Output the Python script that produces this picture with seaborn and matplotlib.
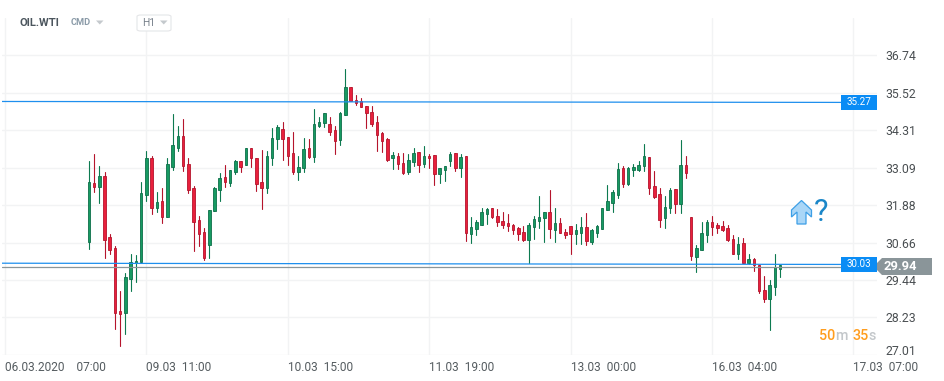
import numpy as np
import pandas as pd
import matplotlib
matplotlib.use('Agg')
import matplotlib.pyplot as plt
from matplotlib.patches import Polygon, Rectangle, FancyBboxPatch
import seaborn as sns

# Hourly candles
highs = [33.31,33.54,33.15,32.94,30.94,30.54,29.09,29.66,30.29,30.26,
         32.63,33.63,33.47,32.30,32.43,33.41,34.84,34.45,34.67,33.41,
         32.50,31.52,31.13,31.71,32.45,32.92,33.17,33.00,33.34,33.30,
         33.72,33.72,33.40,33.67,33.62,34.37,34.48,34.56,34.08,34.24,
         33.46,34.04,34.01,34.99,34.73,34.86,34.73,34.43,34.89,36.30,
         35.70,35.44,35.34,35.08,35.08,34.76,34.24,34.04,33.59,33.56,
         33.56,33.53,33.72,33.59,33.78,33.53,33.49,33.07,33.14,33.59,
         33.56,33.53,33.46,31.48,31.38,31.77,31.77,31.77,31.74,31.64,
         31.58,31.25,31.15,31.19,31.29,31.51,32.17,31.64,32.36,31.77,
         31.45,31.11,31.19,31.25,31.48,31.61,31.09,31.22,31.77,32.52,
         32.36,33.23,33.14,33.10,33.20,33.30,33.85,33.43,32.97,32.42,
         32.16,32.42,32.39,33.99,33.46,31.48,30.57,31.32,31.38,31.51,
         31.29,31.35,31.22,30.90,30.83,30.80,30.28,30.15,29.94,29.59,
         29.43,30.28,29.94]
lows = [30.46,32.31,31.96,30.17,30.30,27.87,27.31,27.70,29.10,29.39,
        30.04,32.02,31.60,31.65,31.31,31.50,33.03,33.64,32.99,32.28,
        30.40,30.56,30.10,30.17,31.70,32.02,32.48,32.51,32.90,32.96,
        33.17,33.12,32.35,31.76,32.28,33.19,33.71,33.35,33.19,32.87,
        32.70,32.96,33.39,33.29,34.42,34.42,34.16,33.55,33.84,34.81,
        35.25,35.14,35.07,34.39,34.46,33.64,33.61,33.32,33.06,33.06,
        32.90,32.87,33.16,32.96,33.12,33.09,32.54,32.60,32.67,33.16,
        32.99,32.80,30.72,30.66,30.92,31.24,31.27,31.47,31.21,31.14,
        31.05,30.95,30.75,30.72,30.01,30.79,31.14,30.69,30.82,30.69,
        30.98,30.82,30.30,30.62,30.62,30.59,30.62,30.85,31.11,31.73,
        31.66,32.12,32.48,32.54,32.83,32.98,32.99,32.25,32.12,31.18,
        31.14,31.63,31.63,31.63,32.77,30.10,29.72,30.41,30.69,30.92,
        30.98,31.05,30.72,30.30,30.14,30.01,29.98,29.75,29.03,28.74,
        27.83,28.97,29.55]
opens = [30.69,32.58,32.48,32.81,30.83,30.47,28.43,28.38,29.49,29.99,
         30.04,32.21,33.40,31.79,32.00,31.50,33.12,33.74,34.11,33.20,
         32.42,31.38,30.99,30.59,31.70,32.38,32.78,32.60,32.96,33.30,
         33.17,33.72,33.40,32.62,32.44,33.42,34.01,34.34,34.08,33.56,
         32.96,33.09,33.72,33.45,34.46,34.53,34.50,34.30,34.00,34.81,
         35.70,35.28,35.25,35.08,34.89,34.56,34.21,34.01,33.39,33.46,
         33.23,32.96,33.29,33.59,33.22,33.46,33.49,32.90,33.03,33.32,
         33.56,33.09,33.46,30.95,31.11,31.24,31.60,31.77,31.51,31.35,
         31.29,31.22,31.12,30.99,30.75,31.18,31.37,31.47,31.64,31.08,
         31.29,30.99,31.19,30.95,30.98,31.16,30.69,30.98,31.11,31.73,
         31.96,32.22,33.07,32.57,33.03,33.03,33.14,33.43,32.49,32.23,
         31.45,31.77,32.39,31.92,33.17,31.48,30.20,30.41,30.92,31.32,
         31.22,31.19,31.12,30.77,30.30,30.64,30.01,30.12,29.92,29.11,
         28.84,29.23,29.81]
closes = [32.62,32.48,32.81,30.75,30.43,28.38,28.35,29.53,30.02,30.05,
          32.26,33.40,31.79,31.97,31.50,33.20,33.82,34.11,33.16,32.38,
          31.34,30.95,30.17,31.71,32.42,32.75,32.64,33.00,33.30,33.12,
          33.72,33.39,32.57,32.44,33.46,34.04,34.40,34.03,33.48,32.96,
          33.10,33.69,33.45,34.50,34.56,34.86,34.26,33.97,34.86,35.70,
          35.25,35.19,35.07,34.85,34.52,34.16,33.97,33.35,33.49,33.22,
          32.93,33.33,33.56,33.19,33.46,33.39,32.90,33.07,33.14,33.53,
          33.09,33.43,30.98,31.16,31.32,31.64,31.74,31.50,31.34,31.24,
          31.21,31.08,30.95,30.75,31.22,31.41,31.48,31.64,31.11,31.29,
          30.98,30.92,30.95,31.06,31.16,30.72,31.06,31.19,31.77,32.00,
          32.29,33.04,32.57,33.07,33.10,33.17,33.46,32.44,32.15,31.40,
          31.80,32.36,31.92,33.17,32.93,30.23,30.47,30.96,31.32,31.18,
          31.14,31.08,30.75,30.30,30.60,30.01,30.12,29.92,29.09,28.84,
          29.27,29.88,29.92]

y_ticks = [27.01, 28.23, 29.44, 30.66, 31.88, 33.09, 34.31, 35.52, 36.74]
x_ticks = [0, 27, 54, 81, 108, 135, 162]
x_labels = ['06.03.2020    07:00', '09.03  11:00', '10.03  15:00', '11.03  19:00',
            '13.03  00:00', '16.03  04:00', '17.03  07:00']
upper_line = [35.24, 35.21]
lower_line = [29.99, 29.95]
price_line = 29.88

sns.set_theme(style='white')
plt.rcParams['font.family'] = ['Roboto', 'DejaVu Sans']

df = pd.DataFrame({'bar': np.arange(len(opens)) + 16, 'open': opens, 'close': closes,
                   'high': highs, 'low': lows})
df['rising'] = df['close'] > df['open']

W, H = 945, 381
fig = plt.figure(figsize=(W / 100, H / 100), dpi=100, facecolor='white')
ax = fig.add_axes([2 / W, 1 - 355 / H, 875 / W, 337 / H])


def px(x, y):
    return x / W, 1 - y / H


# Wicks, one line per candle
wicks = df.melt(id_vars=['bar', 'rising'], value_vars=['high', 'low'], value_name='price')
sns.lineplot(data=wicks, x='bar', y='price', units='bar', estimator=None, hue='rising',
             palette={True: '#0d7a50', False: '#b5142c'}, linewidth=0.8, legend=False,
             ax=ax, zorder=3)

# Bodies
for rising, fill, edge in [(True, '#179a62', '#0d6f49'), (False, '#e8203c', '#b5142c')]:
    part = df[df['rising'] == rising]
    body_lo = part[['open', 'close']].min(axis=1)
    body_hi = part[['open', 'close']].max(axis=1)
    ax.bar(part['bar'], body_hi - body_lo, bottom=body_lo, width=0.48, color=fill,
           edgecolor=edge, linewidth=0.6, zorder=4)

ax.set_xlim(-0.573, 166.5)
ax.set_ylim(27.01, 37.95)
ax.set_xticks(x_ticks)
ax.set_xticklabels(x_labels, ha='left', fontsize=8.6, color='#555c60')
ax.yaxis.tick_right()
ax.set_yticks(y_ticks)
ax.set_yticklabels([f'{v:.2f}' for v in y_ticks], fontsize=8.8, color='#4a4f52')
ax.get_yticklabels()[0].set_va('baseline')
ax.tick_params(axis='x', length=0, pad=4)
ax.tick_params(axis='y', length=0, pad=6)
ax.set_xlabel('')
ax.set_ylabel('')
ax.grid(True, color='#f2f3f4', linewidth=1.0)
ax.set_axisbelow(True)
for s in ax.spines.values():
    s.set_visible(False)

# Level lines
ax.plot([-0.573, 160], upper_line, color='#1e8fee', linewidth=0.9, zorder=5)
ax.plot([-0.573, 160], lower_line, color='#1e8fee', linewidth=0.9, zorder=5)
ax.axhline(price_line, color='#8a9599', linewidth=0.9, zorder=5)

# Level tags
for top, txt in [(95, '35.27'), (257, '30.03')]:
    fig.patches.append(Rectangle(px(841, top + 14.5), 36 / W, 14.5 / H, transform=fig.transFigure,
                                 facecolor='#0a8cf5', edgecolor='none', zorder=6))
    fig.text(*px(859, top + 7), txt, color='white', fontsize=7.1, ha='center', va='center', zorder=7)

fig.patches.append(Polygon([px(882, 258), px(932, 258), px(932, 275), px(882, 275), px(877, 270), px(877, 263)],
                           closed=True, transform=fig.transFigure, facecolor='#8a9599',
                           edgecolor='none', zorder=6))
fig.text(*px(900, 266.8), '29.94', color='white', fontsize=9.4, fontweight='bold', ha='center',
         va='center', zorder=7)

# Arrow and question mark
arrow = [(801.5, 200.5), (811.5, 210), (811.5, 217), (806, 212), (806, 224), (797, 224),
         (797, 212), (791.5, 217), (791.5, 210)]
fig.patches.append(Polygon([px(a, b) for a, b in arrow], closed=True, transform=fig.transFigure,
                           facecolor='#a9d6f7', edgecolor='#3d9fe6', linewidth=0.9, zorder=6))
fig.text(*px(821.5, 212.5), '?', color='#1a86c8', fontsize=22, ha='center', va='center')

# Countdown
for x, txt, col in [(819, '50', '#ff9d1e'), (835.5, 'm', '#c3c7ca'), (852.5, '35', '#ff9d1e'),
                    (869, 's', '#c3c7ca')]:
    fig.text(*px(x, 336), txt, color=col, fontsize=10.3, fontweight='medium', ha='left', va='center')

# Header
fig.text(*px(20, 22.5), 'OIL.WTI', color='#4c565e', fontsize=8, fontweight='bold', va='center')
fig.text(*px(71, 22.5), 'CMD', color='#8b9ba8', fontsize=6.6, fontweight='bold', va='center')
fig.patches.append(FancyBboxPatch(px(137, 31), 34 / W, 16 / H, boxstyle='round,pad=0,rounding_size=0.004',
                                  transform=fig.transFigure, facecolor='white', edgecolor='#e4e6e8',
                                  linewidth=0.8, zorder=6))
fig.text(*px(142, 23), 'H1', color='#77808a', fontsize=7.4, va='center', zorder=7)
for x0 in [96, 160]:
    fig.patches.append(Polygon([px(x0, 20.5), px(x0 + 7.5, 20.5), px(x0 + 3.75, 24.5)], closed=True,
                               transform=fig.transFigure, facecolor='#c4c9cd', edgecolor='none', zorder=7))

fig.savefig('out.png', dpi=100, facecolor='white')
